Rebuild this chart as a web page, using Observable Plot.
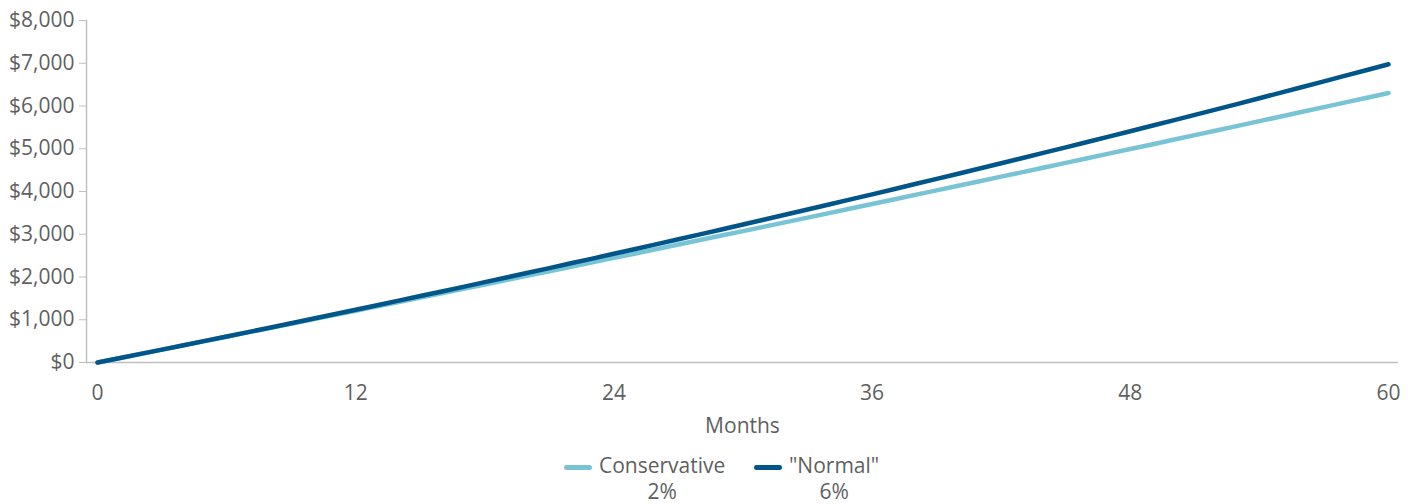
<!DOCTYPE html>
<html>
<head>
<meta charset="utf-8">
<script src="https://cdn.jsdelivr.net/npm/d3@7"></script>
<script src="https://cdn.jsdelivr.net/npm/@observablehq/plot@0.6"></script>
<style>
  html, body { margin: 0; padding: 0; background: #fff; }
  body { font-family: "Open Sans", sans-serif; color: #5f5f5f; width: 1419px; }
  #legend { position: relative; height: 64px; }
  .item { position: absolute; top: 12px; display: flex; align-items: flex-start; }
  .sw { width: 28px; height: 5px; border-radius: 3px; margin-top: 13px; margin-right: 7px; }
  .lbl { font-size: 21px; line-height: 26px; text-align: center; color: #5f5f5f; }
</style>
</head>
<body>
<div id="chart"></div>
<div id="legend"></div>
<script>
const months = d3.range(0, 61);
const seriesNames = ["Conservative", "\"Normal\""];
const seriesRates = ["2%", "6%"];
const seriesColors = ["#78C4D5", "#005589"];
const conservative = [0,100,200,301,401,502,603,704,805,906,1008,1109,1211,1313,1415,1518,1620,1723,1826,1929,2032,2135,2239,2343,2447,2551,2655,2759,2864,2969,3074,3179,3284,3390,3495,3601,3707,3813,3920,4026,4133,4240,4347,4454,4561,4669,4777,4885,4993,5101,5210,5319,5427,5536,5646,5755,5865,5974,6084,6194,6305];
const normal = [0,100,201,302,403,505,608,711,814,918,1023,1128,1234,1340,1447,1554,1662,1770,1879,1988,2098,2208,2320,2431,2543,2656,2769,2883,2997,3112,3228,3344,3461,3578,3696,3815,3934,4053,4174,4294,4416,4538,4661,4784,4908,5032,5158,5283,5410,5537,5665,5793,5922,6051,6182,6313,6444,6576,6709,6843,6977];
const xTicks = [0, 12, 24, 36, 48, 60];
const yTicks = [0, 1000, 2000, 3000, 4000, 5000, 6000, 7000, 8000];

const rows = [];
[conservative, normal].forEach((vals, i) => {
  vals.forEach((v, j) => rows.push({month: months[j], value: v, series: seriesNames[i]}));
});

const chart = Plot.plot({
  width: 1419,
  height: 440,
  marginLeft: 86,
  marginRight: 21,
  marginTop: 20,
  marginBottom: 78,
  insetLeft: 11,
  insetRight: 10,
  style: {fontFamily: "Open Sans, sans-serif", fontSize: "21px", color: "#5f5f5f", background: "#fff"},
  x: {domain: [0, 60]},
  y: {domain: [0, 8000]},
  color: {domain: seriesNames, range: seriesColors},
  marks: [
    Plot.ruleY([0], {stroke: "#bfbfbf", strokeWidth: 1.5}),
    Plot.frame({anchor: "left", stroke: "#bfbfbf", strokeWidth: 1.5}),
    Plot.axisY({ticks: yTicks, tickFormat: d3.format("$,"), tickSize: 7, tickPadding: 5, stroke: "#bfbfbf", fill: "#5f5f5f", label: null, fontSize: 21}),
    Plot.axisX({ticks: xTicks, tickSize: 0, tickPadding: 23, fill: "#5f5f5f", label: null, fontSize: 21}),
    Plot.text(["Months"], {frameAnchor: "bottom", dy: 70, fill: "#5f5f5f", fontSize: 21}),
    Plot.line(rows, {x: "month", y: "value", stroke: "series", strokeWidth: 4.5, strokeLinecap: "round", strokeLinejoin: "round"})
  ]
});
document.getElementById("chart").appendChild(chart);

const legend = document.getElementById("legend");
const positions = [564, 754];
seriesNames.forEach((name, i) => {
  const item = document.createElement("div");
  item.className = "item";
  item.style.left = positions[i] + "px";
  const sw = document.createElement("div");
  sw.className = "sw";
  sw.style.background = seriesColors[i];
  const lbl = document.createElement("div");
  lbl.className = "lbl";
  lbl.innerHTML = name.replace(/"/g, "&quot;") + "<br>" + seriesRates[i];
  item.appendChild(sw);
  item.appendChild(lbl);
  legend.appendChild(item);
});
</script>
</body>
</html>
